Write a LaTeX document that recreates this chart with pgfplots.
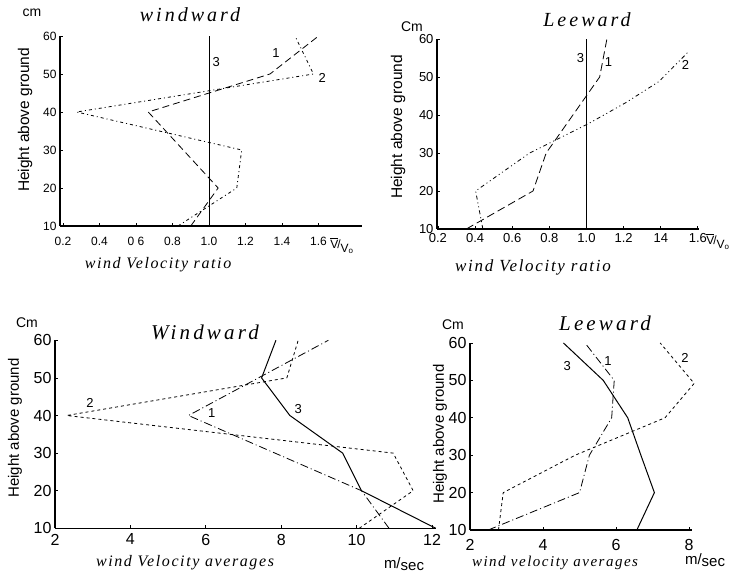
\documentclass[border=0pt]{standalone}
\usepackage{pgfplots}
\pgfplotsset{compat=1.18}
\usepackage{fontspec}
\setmainfont{Liberation Sans}
\newfontfamily\scrA[LetterSpace=10]{Liberation Serif}
\newfontfamily\scrB[LetterSpace=15]{Liberation Serif}
\newcommand{\fs}[1]{\fontsize{#1}{#1}\selectfont}
\pgfplotsset{
  hand/.style={
    scale only axis,
    anchor=south west,
    axis lines=left,
    axis line style={-, line width=1.1pt},
    tick align=inside,
    major tick length=3pt,
    tick style={line width=0.8pt, black},
    ymin=10, ymax=60, ytick={10,20,30,40,50,60},
    /pgf/number format/assume math mode=true,
    clip=false,
  },
  s3/.style={black, line width=1pt},
}
\tikzset{lab/.style={font=\fs{13}}}
\begin{document}
\begin{tikzpicture}
\useasboundingbox (0pt,0pt) rectangle (731pt,579pt);

% ---------------- Panel 1: windward ratio ----------------
\begin{axis}[hand, at={(60pt,353pt)}, width=302pt, height=190pt,
  xmin=0.1836, xmax=1.838,
  xtick={0.2,0.4,0.6,0.8,1.0,1.2,1.4,1.6},
  xticklabels={0.2,0.4,0 6,0.8,1.0,1.2,1.4,1.6},
  ticklabel style={font=\fs{12}},
  xticklabel style={yshift=-8pt}]
\addplot[s3] coordinates {(1.0,10) (1.0,60)};
\addplot[black, line width=0.8pt, dash pattern=on 7pt off 4pt] coordinates {
  (0.90,10) (1.05,20) (0.667,40) (1.334,50) (1.60,60)};
\addplot[black, line width=0.8pt, dash pattern=on 3pt off 3pt on 1pt off 3pt] coordinates {
  (0.83,10) (1.152,20) (1.179,30) (0.275,40) (1.572,50) (1.471,60)};
\node[lab] at (axis cs:1.367,55.5) {1};
\node[lab] at (axis cs:1.62,49) {2};
\node[lab] at (axis cs:1.04,53.2) {3};
\end{axis}
\node[font=\fs{14}] at (32pt,566pt) {cm};
\node[font=\scrB\itshape\fs{20}] at (190pt,564pt) {windward};
\node[font=\fs{15.5}, rotate=90] at (25pt,459pt) {Height above ground};
\node[font=\scrA\itshape\fs{16}] at (158pt,314pt) {wind Velocity ratio};
\node[font=\fs{12}] at (342pt,333pt) {$\overline{\mathrm{V}}$\kern-1pt/\raisebox{-4pt}{V\textsubscript{o}}};

% ---------------- Panel 2: leeward ratio ----------------
\begin{axis}[hand, at={(437pt,350pt)}, width=262pt, height=190pt,
  xmin=0.195, xmax=1.606,
  xtick={0.2,0.4,0.6,0.8,1.0,1.2,1.4,1.6},
  xticklabels={0.2,0.4,0.6,0.8,1.0,1.2,14,1.6},
  ticklabel style={font=\fs{13}},
  xticklabel style={yshift=-1pt}]
\addplot[s3] coordinates {(1.0,10) (1.0,60)};
\addplot[black, line width=0.8pt, dash pattern=on 8pt off 4pt] coordinates {
  (0.353,10) (0.712,20) (0.783,30) (1.071,50) (1.11,60)};
\addplot[black, line width=0.8pt, dash pattern=on 4pt off 3pt on 1pt off 3pt on 1pt off 3pt] coordinates {
  (0.442,10) (0.403,20) (0.694,30) (1.01,37.7) (1.21,43.2) (1.39,48.8) (1.55,56.7)};
\node[lab] at (axis cs:0.968,55.1) {3};
\node[lab] at (axis cs:1.119,54) {1};
\node[lab] at (axis cs:1.533,53.2) {2};
\end{axis}
\node[font=\fs{14}] at (412pt,552pt) {Cm};
\node[font=\scrB\itshape\fs{20}] at (587pt,559pt) {Leeward};
\node[font=\fs{15.5}, rotate=90] at (398pt,452pt) {Height above ground};
\node[font=\scrA\itshape\fs{17}] at (533pt,312pt) {wind Velocity ratio};
\node[font=\fs{12}] at (718pt,337pt) {$\overline{\mathrm{V}}$\kern-1pt/\raisebox{-4pt}{V\textsubscript{o}}};

% ---------------- Panel 3: windward averages ----------------
\begin{axis}[hand, at={(55pt,50.7pt)}, width=381pt, height=188pt,
  xmin=2, xmax=12.106,
  xtick={2,4,6,8,10,12},
  ticklabel style={font=\fs{16}},
  xticklabel style={yshift=-2pt}]
\addplot[s3] coordinates {
  (12.1,10) (10.13,20) (9.63,30) (8.23,40) (7.48,50) (7.86,60)};
\addplot[black, line width=0.8pt, dash pattern=on 8pt off 3pt on 1pt off 3pt] coordinates {
  (10.86,10) (10.13,20) (5.54,40) (9.25,60)};
\addplot[black, line width=0.8pt, dash pattern=on 3pt off 3pt] coordinates {
  (10.07,10) (11.5,20) (10.97,30) (2.31,40) (8.15,50) (8.45,60)};
\node[lab] at (axis cs:2.93,43.3) {2};
\node[lab] at (axis cs:6.16,40.7) {1};
\node[lab] at (axis cs:8.45,41.7) {3};
\end{axis}
\node[font=\fs{14}] at (27pt,256pt) {Cm};
\node[font=\scrB\itshape\fs{21}] at (205pt,247pt) {Windward};
\node[font=\fs{15}, rotate=90] at (15pt,151pt) {Height above ground};
\node[font=\scrA\itshape\fs{16}] at (185pt,16pt) {wind Velocity averages};
\node[font=\fs{15}] at (404pt,15pt) {m/\raisebox{-2pt}{sec}};

% ---------------- Panel 4: leeward averages ----------------
\begin{axis}[hand, at={(470pt,49pt)}, width=222pt, height=187pt,
  xmin=2, xmax=8.08,
  xtick={2,4,6,8},
  ticklabel style={font=\fs{16}},
  xticklabel style={yshift=-6pt}]
\addplot[s3] coordinates {
  (6.57,10) (7.05,20) (6.68,30) (6.32,40) (5.65,50) (4.56,60)};
\addplot[black, line width=0.8pt, dash pattern=on 8pt off 3pt on 1pt off 3pt] coordinates {
  (2.5,10) (5.0,20) (5.27,30) (5.88,40) (5.95,50) (5.15,60)};
\addplot[black, line width=0.8pt, dash pattern=on 3pt off 3pt] coordinates {
  (2.78,10) (2.91,20) (4.88,30) (7.34,40) (8.14,49.2) (7.21,60)};
\node[lab] at (axis cs:4.66,53.9) {3};
\node[lab] at (axis cs:5.78,55.2) {1};
\node[lab] at (axis cs:7.89,56) {2};
\end{axis}
\node[font=\fs{14}] at (453pt,254pt) {Cm};
\node[font=\scrB\itshape\fs{21}] at (605pt,256pt) {Leeward};
\node[font=\fs{15}, rotate=90] at (440pt,145pt) {Height above ground};
\node[font=\scrA\itshape\fs{15}] at (555pt,16pt) {wind velocity averages};
\node[font=\fs{15}] at (705pt,19pt) {m/\raisebox{-2pt}{sec}};
\end{tikzpicture}
\end{document}
